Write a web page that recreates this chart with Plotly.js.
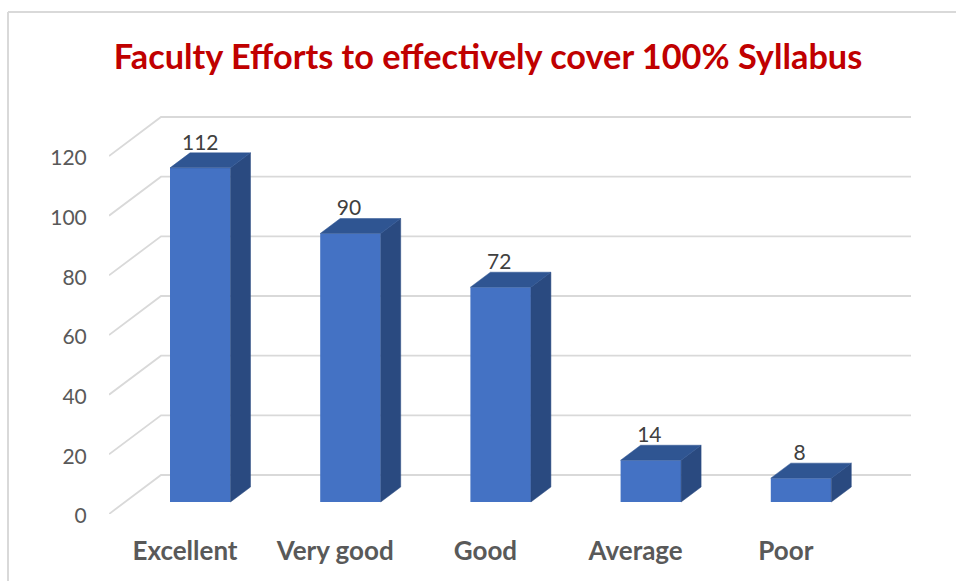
<!DOCTYPE html>
<html>
<head>
<meta charset="utf-8">
<script src="https://cdn.plot.ly/plotly-3.0.1.min.js"></script>
<style>html,body{margin:0;padding:0;background:#fff;}#chart{width:956px;height:581px;}</style>
</head>
<body>
<div id="chart"></div>
<script>
const categories = ["Excellent", "Very good", "Good", "Average", "Poor"];
const responses = [112, 90, 72, 14, 8];
const tickValues = [0, 20, 40, 60, 80, 100, 120];
const chartTitle = "Faculty Efforts to effectively cover 100% Syllabus";

const W = 956, H = 581;
const plot = {l: 109, r: 911, t: 100, b: 514};
const pxPerUnit = 358 / 120;
const pxPerCat = 150.2;
const firstCatPx = 185;
const xRange = [(plot.l - firstCatPx) / pxPerCat, (plot.r - firstCatPx) / pxPerCat];
const yRange = [0, (plot.b - plot.t) / pxPerUnit];
const dxCat = px => px / pxPerCat;
const dyVal = px => px / pxPerUnit;

const barLift = dyVal(12), depthX = dxCat(20), depthY = dyVal(15);
const barWidth = dxCat(60.5), barLeftOffset = dxCat(170 - 185);
const wallX = dxCat(52), wallY = dyVal(39);
const x0 = xRange[0];
const x1 = xRange[1];

// side wall + back wall gridlines, beneath every bar
const gridShapes = tickValues.map(v => ({
  type: "path", layer: "below", xref: "x", yref: "y",
  path: `M ${x0} ${v} L ${x0 + wallX} ${v + wallY} L ${x1} ${v + wallY}`,
  line: {color: "#d9d9d9", width: 1.8}
}));

// side and top faces of each bar
const sideX = [], sideY = [], topX = [], topY = [];
responses.forEach((v, i) => {
  const a = i + barLeftOffset, b = a + barWidth;
  const f = barLift, t = barLift + v;
  sideX.push(b, b + depthX, b + depthX, b, b, null);
  sideY.push(f, f + depthY, t + depthY, t, f, null);
  topX.push(a, b, b + depthX, a + depthX, a, null);
  topY.push(t, t, t + depthY, t + depthY, t, null);
});

const traces = [
  {type: "bar", x: categories.map((c, i) => i), y: responses,
   base: responses.map(() => barLift), width: barWidth, offset: barLeftOffset,
   marker: {color: "#4472c4", line: {width: 0}}, showlegend: false},
  {type: "scatter", mode: "lines", x: sideX, y: sideY, fill: "toself", fillcolor: "#2a4a80",
   line: {color: "#2a4a80", width: 0.5}, hoverinfo: "skip", showlegend: false},
  {type: "scatter", mode: "lines", x: topX, y: topY, fill: "toself", fillcolor: "#2f5592",
   line: {color: "#2f5592", width: 0.5}, hoverinfo: "skip", showlegend: false},
  {type: "scatter", mode: "text", x: responses.map((v, i) => i + barLeftOffset + barWidth / 2 - dxCat(i ? 1.5 : 0)),
   y: responses.map(v => v + barLift + depthY - dyVal(2)), text: responses.map(String),
   textposition: "top center", textfont: {family: "Lato, sans-serif", size: 21, color: "#404040"},
   hoverinfo: "skip", showlegend: false, cliponaxis: false}
];

const pfx = px => (px - plot.l) / (plot.r - plot.l);
const pfy = py => (plot.b - py) / (plot.b - plot.t);
const border = (a, b, c, d) => ({type: "line", xref: "paper", yref: "paper",
  x0: pfx(a), y0: pfy(b), x1: pfx(c), y1: pfy(d), line: {color: "#d9d9d9", width: 2}});

const layout = {
  width: W, height: H,
  margin: {l: plot.l, r: W - plot.r, t: plot.t, b: H - plot.b, pad: 0},
  paper_bgcolor: "#ffffff", plot_bgcolor: "rgba(0,0,0,0)",
  showlegend: false,
  title: {text: "<b>" + chartTitle + "</b>", x: 488 / W, xanchor: "center", xref: "container",
          y: 1 - 57 / H, yanchor: "middle", yref: "container",
          font: {family: "Lato, sans-serif", size: 34.3, color: "#c00000"}},
  xaxis: {range: xRange, tickmode: "array", tickvals: categories.map((c, i) => i), ticktext: categories.map(c => "<b>" + c + "</b>"),
          showgrid: false, zeroline: false, showline: false, ticks: "outside", ticklen: 14, tickcolor: "rgba(0,0,0,0)",
          tickfont: {family: "Lato, sans-serif", size: 26, color: "#595959"}},
  yaxis: {range: yRange, tickmode: "array", tickvals: tickValues, ticktext: tickValues.map(String),
          showgrid: false, zeroline: false, showline: false, ticks: "outside", ticklen: 17, tickcolor: "rgba(0,0,0,0)",
          ticklabelshift: 2,
          tickfont: {family: "Lato, sans-serif", size: 21, color: "#595959"}},
  shapes: gridShapes.concat([border(8, 12, W + 5, 12), border(8, 12, 8, H + 5)])
};

Plotly.newPlot("chart", traces, layout, {displayModeBar: false, responsive: false});
</script>
</body>
</html>
